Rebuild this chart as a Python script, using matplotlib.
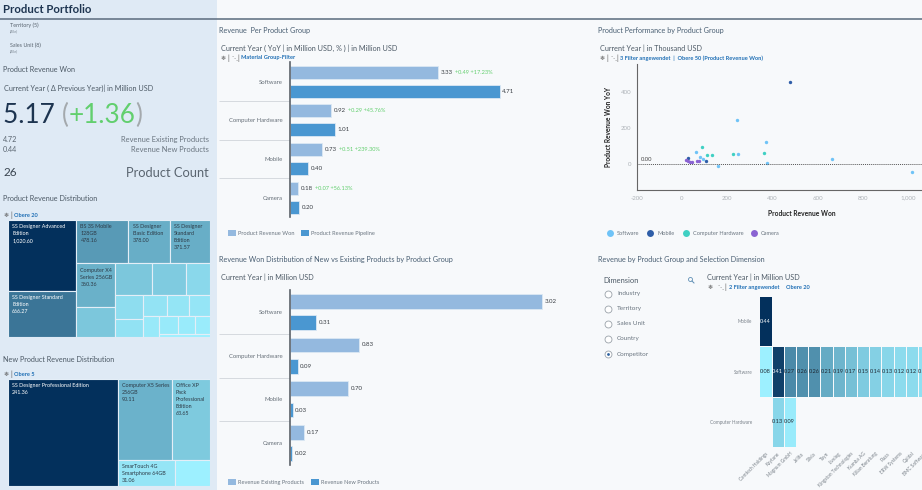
import matplotlib
matplotlib.use("Agg")
import numpy as np
import matplotlib.pyplot as plt
from matplotlib.colors import LinearSegmentedColormap, Normalize
from matplotlib.patches import Rectangle, Circle

plt.rcParams['font.family'] = ['Lato', 'DejaVu Sans']

# ---------- data ----------
groups = ["Software", "Computer Hardware", "Mobile", "Camera"]
rev_won = [3.33, 0.92, 0.73, 0.18]
rev_pipeline = [4.71, 1.01, 0.40, 0.20]
rev_delta = ["+0.49 +17.23%", "+0.29 +45.76%", "+0.51 +239.30%", "+0.07 +56.13%"]
rev_existing = [3.02, 0.83, 0.70, 0.17]
rev_new = [0.31, 0.09, 0.03, 0.02]

tm1_values = [1020.60, 666.27, 478.16, 378.00, 371.57, 360.36, 248, 245, 227, 162,
              135, 106, 103, 96, 90, 74, 70, 65, 58, 36]
tm1_labels = ["SS Designer Advanced\nEdition\n1,020.60", "SS Designer Standard\nEdition\n666.27",
              "BS 3S Mobile\n128GB\n478.16", "SS Designer\nBasic Edition\n378.00",
              "SS Designer\nStandard\nEdition\n371.57", "Computer X4\nSeries 256GB\n360.36"]
tm2_values = [241.36, 90.11, 63.65, 31.06, 18.7]
tm2_labels = ["SS Designer Professional Edition\n241.36", "Computer X5 Series\n256GB\n90.11",
              "Office XP\nPack\nProfessional\nEdition\n63.65", "SmarTouch 4G\nSmartphone 64GB\n31.06"]
tm1_tree = ("h", [("v", [0, 1]),
                  ("v", [("h", [2, 3, 4]),
                         ("h", [("v", [5, 6]),
                                ("v", [("h", [7, 8, 9]),
                                       ("h", [("v", [10, 11]),
                                              ("v", [("h", [12, 13, 14]),
                                                     ("h", [15, ("v", [("h", [16, 17, 18]), 19])])])])])])])])
tm2_tree = ("h", [0, ("v", [("h", [1, 2]), ("h", [3, 4])])])

sw_x = [1019, 666, 377, 371, 249, 242, 159, 94, 78, 63]
sw_y = [-46, 26, 2, 118, 56, 244, -15, 24, 35, 65]
mo_x = [477, 29, 108]
mo_y = [452, 33, 13]
ch_x = [361, 227, 135, 109, 88]
ch_y = [61, 52, 46, 48, 93]
ca_x = [18, 27, 35, 44, 66, 75]
ca_y = [19, 13, 11, 9, 15, 15]

hm_columns = ["Camtech Holdings", "Kaytane", "Magnum GmbH", "Jallito", "Silvia", "Tayn", "Liveleg",
              "Kingston Technologies", "Kumba AG", "Kilian Beratung", "Plaza", "ERW Systems",
              "Quidal", "BMC Software"]
hm_rows = ["Mobile", "Software", "Computer Hardware"]
hm_mobile = [0.44] + [np.nan] * 13
hm_software = [0.08, 0.41, 0.27, 0.26, 0.26, 0.21, 0.19, 0.17, 0.15, 0.14, 0.13, 0.12, 0.12, 0.11]
hm_hardware = [np.nan, 0.13, 0.09] + [np.nan] * 11
dimensions = ["Industry", "Territory", "Sales Unit", "Country", "Competitor"]

# ---------- style ----------
W, H = 922, 490
PANEL = "#dfeaf5"
BG = "#f7f9fb"
TITLE = "#4a5f73"
TXT = "#4d5a66"
LINK = "#1f6fb5"
LIGHT = "#94b9df"
DARK = "#4a97d1"
GREEN = "#62cf6e"
HEAD = 5.2
cmap = LinearSegmentedColormap.from_list("tm", ["#9df0ff", "#03305c"])

fig = plt.figure(figsize=(W / 100, H / 100), dpi=100, facecolor=BG)


def rect_axes(l, t, r, b, **kw):
    return fig.add_axes([l / W, 1 - b / H, (r - l) / W, (b - t) / H], **kw)


ov = fig.add_axes([0, 0, 1, 1], zorder=-1)
ov.set_xlim(0, W)
ov.set_ylim(H, 0)
ov.axis("off")


def T(x, y, s, size=6, color=TXT, ha="left", weight="normal", **kw):
    return ov.text(x, y, s, fontsize=size, color=color, ha=ha, va="center", fontweight=weight, **kw)


def icons(x, y, *marks):
    for dx, m in marks:
        T(x + dx, y, m, 4.3 if m != "|" else 5, "#555")


ov.add_patch(Rectangle((0, 0), 217, H, fc=PANEL, ec="none"))
ov.plot([0, W], [19, 19], color="#5a6b7d", lw=1.1)

# ---------- left panel ----------
T(3, 9.5, "Product Portfolio", 8.2, "#1d3450", weight="bold")
T(10, 25.5, "Territory (5)", 3.9, "#5a6570")
T(10, 31.5, "(Alle)", 2.7, "#7a8590")
T(10, 45.5, "Sales Unit (8)", 3.9, "#5a6570")
T(10, 51.5, "(Alle)", 2.7, "#7a8590")
T(3, 70, "Product Revenue Won", 5.2, TXT)
T(4, 88, "Current Year ( Δ Previous Year)| in Million USD", 5.2, TXT)
BIG = 18.8
t1 = T(3, 115.5, "5.17 ", BIG, "#1d3450")
t2 = ov.annotate("(", xy=(1, 0.5), xycoords=t1, xytext=(0, 0), textcoords="offset points",
                 fontsize=BIG, color="#a4a9ad", va="center")
t3 = ov.annotate("+1.36", xy=(1, 0.5), xycoords=t2, xytext=(0, 0), textcoords="offset points",
                 fontsize=BIG, color=GREEN, va="center")
ov.annotate(")", xy=(1, 0.5), xycoords=t3, xytext=(0, 0), textcoords="offset points",
            fontsize=BIG, color="#a4a9ad", va="center")
T(3, 139.5, "4.72", 5.2, "#5a6570")
T(3, 149.5, "0.44", 5.2, "#5a6570")
T(209, 139.5, "Revenue Existing Products", 5.4, "#6a7580", ha="right")
T(209, 149.5, "Revenue New Products", 5.4, "#6a7580", ha="right")
T(3.5, 172.5, "26", 8.5, "#3a4550")
T(209, 172.5, "Product Count", 9.3, "#5a6570", ha="right")
T(3, 198, "Product Revenue Distribution", HEAD, TXT)
icons(3, 215, (0, "❄"), (7.5, "|"))
T(14, 215, "Obere 20", 4.1, LINK, weight="bold")
T(3, 359, "New Product Revenue Distribution", HEAD, TXT)
icons(3, 374.5, (0, "❄"), (7.5, "|"))
T(14, 374.5, "Obere 5", 4.1, LINK, weight="bold")


def weight_of(node, vals):
    if isinstance(node, int):
        return vals[node]
    return sum(weight_of(c, vals) for c in node[1])


def draw_tree(ax, node, vals, labels, norm, x, y, w, h):
    if isinstance(node, int):
        v = vals[node]
        c = cmap(norm(v))
        ax.add_patch(Rectangle((x, y), w, h, fc=c, ec="#e4eef7", lw=0.8))
        if node < len(labels):
            col = "white" if norm(v) > 0.6 else "#2d3a46"
            ax.annotate(labels[node], xy=(x, y), xytext=(3, -3), textcoords="offset points",
                        fontsize=3.9, color=col, va="top", ha="left", linespacing=1.5)
        return
    total = weight_of(node, vals)
    pos = 0
    for child in node[1]:
        frac = weight_of(child, vals) / total
        if node[0] == "h":
            draw_tree(ax, child, vals, labels, norm, x + pos * w, y, frac * w, h)
        else:
            draw_tree(ax, child, vals, labels, norm, x, y + pos * h, w, frac * h)
        pos += frac


def treemap(box, tree, vals, labels):
    ax = rect_axes(*box)
    ax.set_xlim(0, 1)
    ax.set_ylim(1, 0)
    ax.axis("off")
    draw_tree(ax, tree, vals, labels, Normalize(min(vals), max(vals)), 0, 0, 1, 1)


treemap((8, 220, 210, 337), tm1_tree, tm1_values, tm1_labels)
treemap((8, 379, 210, 486), tm2_tree, tm2_values, tm2_labels)


# ---------- bar charts ----------
def bars(box, xmax, a, b, delta=None):
    ax = rect_axes(*box)
    ax.patch.set_alpha(0)
    y = np.arange(len(groups))
    ax.barh(y - 0.245, a, 0.336, color=LIGHT, edgecolor="#dbe8f4", lw=0.6)
    ax.barh(y + 0.245, b, 0.336, color=DARK, edgecolor="#dbe8f4", lw=0.6)
    ax.set_xlim(0, xmax)
    ax.set_ylim(3.5, -0.5)
    for s in ["top", "right", "bottom"]:
        ax.spines[s].set_visible(False)
    ax.spines["left"].set_color("#5c6269")
    ax.spines["left"].set_linewidth(1.2)
    ax.set_xticks([])
    ax.set_yticks(y)
    ax.set_yticklabels(groups, fontsize=4.3, color="#666f78")
    ax.tick_params(axis="y", length=0, pad=5)
    ax.set_yticks(y[:-1] + 0.5, minor=True)
    ax.tick_params(axis="y", which="minor", length=51, width=0.7, color="#d5dadf")
    for i in y:
        t = ax.annotate(f"{a[i]:.2f}", xy=(a[i], i - 0.245), xytext=(2, 0), textcoords="offset points",
                        fontsize=4.4, color="#3a3f45", va="center")
        if delta is not None:
            ax.annotate(delta[i], xy=(1, 0.5), xycoords=t, xytext=(1.5, 0), textcoords="offset points",
                        fontsize=4.1, color=GREEN, va="center")
        ax.annotate(f"{b[i]:.2f}", xy=(b[i], i + 0.245), xytext=(2, 0), textcoords="offset points",
                    fontsize=4.4, color="#3a3f45", va="center")
    return ax


bars((290, 62.5, 590, 217), 300 / 44.5, rev_won, rev_pipeline, rev_delta)
bars((290, 290, 590, 465), 300 / 83.4, rev_existing, rev_new)

T(219, 30, "Revenue  Per Product Group", HEAD, TITLE)
T(221, 48, "Current Year ( YoY | in Million USD, % ) | in Million USD", HEAD, TXT)
icons(220, 58, (0, "❄"), (7, "|"), (11, "⋱"), (17, "|"))
T(241, 58, "Material Group-Filter", 4.1, LINK, weight="bold")
T(219, 259, "Revenue Won Distribution of New vs Existing Products by Product Group", HEAD, TITLE)
T(221, 277, "Current Year | in Million USD", HEAD, TXT)


def legend_sq(x, y, color, label):
    ov.add_patch(Rectangle((x, y - 3), 8, 6, fc=color, ec="none"))
    T(x + 10, y, label, 4.1, "#6a7580")


legend_sq(228, 233, LIGHT, "Product Revenue Won")
legend_sq(301, 233, DARK, "Product Revenue Pipeline")
legend_sq(228, 482, LIGHT, "Revenue Existing Products")
legend_sq(311, 482, DARK, "Revenue New Products")

# ---------- scatter ----------
T(598, 30, "Product Performance by Product Group", HEAD, TITLE)
T(600, 48, "Current Year | in Thousand USD", HEAD, TXT)
icons(599, 58, (0, "❄"), (7, "|"), (11, "⋱"), (17, "|"))
T(620, 58, "3 Filter angewendet  |  Obere 50 (Product Revenue Won)", 4.1, LINK, weight="bold")

sc = rect_axes(636.7, 64, 922, 190)
sc.patch.set_alpha(0)
colors = {"Software": "#6fc3f7", "Mobile": "#2f5ea8", "Computer Hardware": "#3fd0c3", "Camera": "#8a63d2"}
sc.scatter(sw_x, sw_y, s=6, color=colors["Software"], lw=0)
sc.scatter(mo_x, mo_y, s=6, color=colors["Mobile"], lw=0)
sc.scatter(ch_x, ch_y, s=6, color=colors["Computer Hardware"], lw=0)
sc.scatter(ca_x, ca_y, s=6, color=colors["Camera"], lw=0)
sc.set_xlim(-200, 1062)
sc.set_ylim(-146, 554)
sc.axhline(0, color="#555", lw=0.7, ls=(0, (1, 1)))
for s in ["top", "right"]:
    sc.spines[s].set_visible(False)
for s in ["left", "bottom"]:
    sc.spines[s].set_color("#666")
    sc.spines[s].set_linewidth(0.8)
sc.set_xticks([-200, 0, 200, 400, 600, 800, 1000])
sc.set_xticklabels(["-200", "0", "200", "400", "600", "800", "1,000"])
sc.set_yticks([0, 200, 400])
sc.tick_params(length=0, labelsize=4.4, labelcolor="#aeb3b8", pad=4)
sc.set_xlabel("Product Revenue Won", fontsize=4.8, fontweight="bold", color="#222")
sc.xaxis.set_label_coords(0.579, -0.158)
sc.set_ylabel("Product Revenue Won YoY", fontsize=4.7, fontweight="bold", color="#222")
sc.yaxis.set_label_coords(-0.088, 0.5)
sc.annotate("0.00", xy=(0, 0), xycoords=("axes fraction", "data"), xytext=(3, 3), textcoords="offset points",
            fontsize=4.2, color="#444", va="center")
for x, name in zip([610, 650, 686, 754], colors):
    ov.plot([x], [233], "o", ms=5, color=colors[name], mew=0)
    T(x + 7, 233, name, 4.1, "#6a7580")

# ---------- selection + heatmap ----------
T(598, 259, "Revenue by Product Group and Selection Dimension", HEAD, TITLE)
T(603, 280, "Dimension", 5.4, TXT)
for i, (yy, name) in enumerate(zip([293.5, 308.5, 323.5, 338.7, 354], dimensions)):
    ov.plot([607.5], [yy], "o", ms=5, mfc="white", mec="#9aa2a9", mew=0.6)
    if i == 4:
        ov.plot([607.5], [yy], "o", ms=2, color="#2a5f9e", mew=0)
    T(617, yy, name, 4.6, "#6a7580")
ov.add_patch(Circle((690.5, 279.5), 2, fc="none", ec="#5f8fb5", lw=0.6))
ov.plot([692, 694], [281, 283], color="#5f8fb5", lw=0.7)
T(707, 277, "Current Year | in Million USD", HEAD, TXT)
icons(707, 287, (0, "❄"), (10, "⋱"), (17.5, "|"))
T(728.5, 287, "2 Filter angewendet", 4.1, LINK, weight="bold")
T(786, 287, "Obere 20", 4.1, LINK, weight="bold")

hm = rect_axes(759.3, 296, 759.3 + 14 * 12.2, 447)
hm.patch.set_alpha(0)
Z = np.array([hm_mobile, hm_software, hm_hardware])
hm_norm = Normalize(0.08, 0.44)
hm.pcolormesh(np.ma.masked_invalid(Z), cmap=cmap, norm=hm_norm, edgecolors=BG, linewidth=0.5)
hm.set_ylim(3, 0)
for s in hm.spines.values():
    s.set_visible(False)
hm.set_xticks(np.arange(len(hm_columns)) + 0.5)
hm.set_xticklabels(hm_columns, rotation=45, ha="right", rotation_mode="anchor", fontsize=3.4, color="#7a828a")
hm.set_yticks(np.arange(3) + 0.5)
hm.set_yticklabels(hm_rows, fontsize=3.3, color="#7a828a")
hm.tick_params(length=0, pad=5)
hm.tick_params(axis="x", pad=3)
for r in range(3):
    for c in range(Z.shape[1]):
        if not np.isnan(Z[r, c]):
            hm.text(c + 0.5, r + 0.5, f"{Z[r, c]:.2f}", ha="center", va="center", fontsize=4.1,
                    color="white" if Z[r, c] > 0.35 else "#1f2a35", clip_on=True)

fig.savefig("out.png", dpi=100, facecolor=fig.get_facecolor())
